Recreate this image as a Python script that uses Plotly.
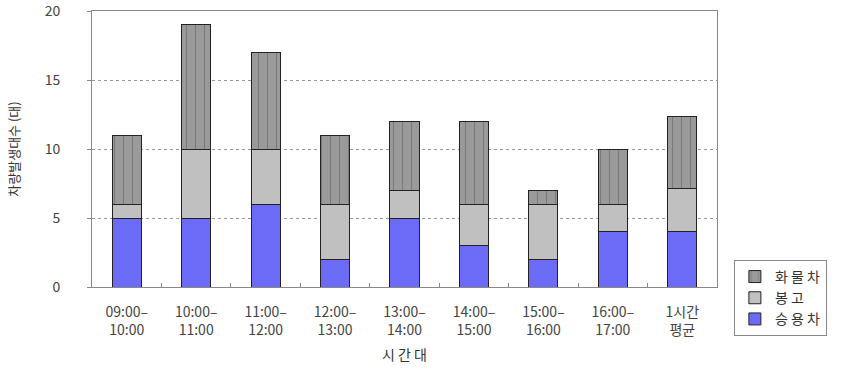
import plotly.graph_objects as go

categories = ["09:00–<br>10:00", "10:00–<br>11:00", "11:00–<br>12:00", "12:00–<br>13:00",
              "13:00–<br>14:00", "14:00–<br>15:00", "15:00–<br>16:00", "16:00–<br>17:00",
              "1시간<br>평균"]
passenger = [5, 5, 6, 2, 5, 3, 2, 4, 4.0]
bongo = [1, 5, 4, 4, 2, 3, 4, 2, 3.125]
truck = [5, 9, 7, 5, 5, 6, 1, 4, 5.25]
series_names = ["승 용 차", "봉 고", "화 물 차"]

FONT = "Noto Sans CJK KR"

fig = go.Figure()
fig.add_trace(go.Bar(name=series_names[0], x=categories, y=passenger,
                     marker=dict(color="#6B6BF7", line=dict(color="#222222", width=1))))
fig.add_trace(go.Bar(name=series_names[1], x=categories, y=bongo,
                     marker=dict(color="#C0C0C0", line=dict(color="#222222", width=1))))
fig.add_trace(go.Bar(name=series_names[2], x=categories, y=truck,
                     marker=dict(color="#9A9A9A", line=dict(color="#222222", width=1),
                                 pattern=dict(shape="|", fgcolor="#5A5A5A", bgcolor="#9A9A9A",
                                              size=9, solidity=0.12))))

fig.update_layout(
    barmode="stack",
    bargap=0.58,
    width=843, height=373,
    margin=dict(l=92, r=126, t=11, b=86, autoexpand=False),
    paper_bgcolor="white", plot_bgcolor="white",
    font=dict(family=FONT, size=12, color="#444444"),
    showlegend=True,
    legend=dict(x=1.027, y=0.098, xanchor="left", yanchor="top",
                traceorder="reversed", bordercolor="#888888", borderwidth=1,
                font=dict(size=14, color="#333333"), bgcolor="white",
                itemwidth=30, tracegroupgap=0),
    xaxis=dict(showline=True, linecolor="#888888", mirror=True, automargin=False,
               ticks="inside", tickson="boundaries", ticklen=4, tickcolor="#888888",
               ticklabelstandoff=12,
               tickfont=dict(size=14, color="#444444"),
               title=dict(text="시 간 대", font=dict(size=14, color="#333333"), standoff=12)),
    yaxis=dict(range=[0, 20], dtick=5, showline=True, linecolor="#888888", mirror=True,
               automargin=False, ticklabeloverflow="allow",
               ticks="outside", ticklen=4, tickcolor="#888888", ticklabelstandoff=24,
               showgrid=True, gridcolor="#999999", griddash="dot", gridwidth=1,
               zeroline=False,
               tickfont=dict(size=14, color="#444444"),
               title=dict(text="차량발생대수 (대)", font=dict(size=13, color="#333333"), standoff=22)),
)

fig.write_html("out.html", config={"displayModeBar": False},
               post_script="document.body.style.margin='0';")
